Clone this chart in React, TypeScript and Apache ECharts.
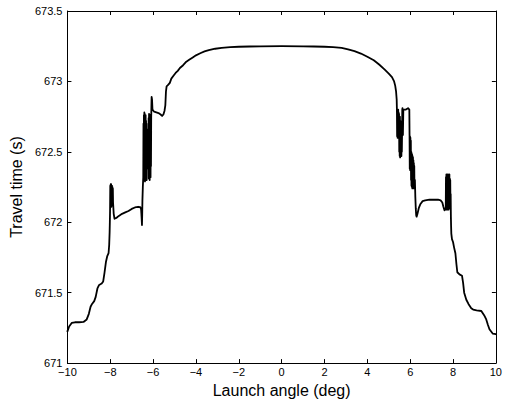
import React, { useEffect, useRef } from "react";
import * as echarts from "echarts";

// Ray samples as [launch angle (deg), travel time (s)], left to right along the curve.

// Smooth rise from the left edge
const leftTail: [number, number][] = [
  [-10.0, 671.225], [-9.92, 671.26], [-9.8, 671.285], [-9.65, 671.29], [-9.45, 671.29], [-9.25, 671.292],
  [-9.1, 671.31], [-9.0, 671.35], [-8.92, 671.4], [-8.85, 671.42], [-8.75, 671.44], [-8.68, 671.47],
  [-8.6, 671.53], [-8.52, 671.555], [-8.4, 671.565], [-8.33, 671.58], [-8.27, 671.64], [-8.2, 671.72],
  [-8.14, 671.76], [-8.08, 671.78], [-8.05, 671.84], [-8.03, 671.93], [-8.02, 672.0], [-8.01, 672.08],
];

// Scattered arrivals near -8 deg
const leftBand1: [number, number][] = [
  [-8.0, 672.26], [-7.99, 672.11], [-7.98, 672.27], [-7.97, 672.12], [-7.96, 672.27], [-7.95, 672.11],
  [-7.94, 672.26], [-7.93, 672.12], [-7.92, 672.26], [-7.91, 672.13], [-7.9, 672.25], [-7.89, 672.12],
  [-7.88, 672.24], [-7.87, 672.14],
];

// Shallow shelf between -7.8 and -6.5 deg
const leftShelf: [number, number][] = [
  [-7.84, 672.06], [-7.8, 672.025], [-7.72, 672.03], [-7.6, 672.045], [-7.45, 672.06], [-7.3, 672.07],
  [-7.15, 672.08], [-7.0, 672.095], [-6.85, 672.105], [-6.7, 672.11], [-6.6, 672.108], [-6.56, 672.09],
  [-6.54, 672.04], [-6.52, 671.98], [-6.51, 672.05], [-6.5, 672.15], [-6.48, 672.25], [-6.46, 672.32],
];

// Scattered arrivals between -6.45 and -6.07 deg
const leftBand2: [number, number][] = [
  [-6.45, 672.7], [-6.44, 672.32], [-6.43, 672.76], [-6.42, 672.3], [-6.41, 672.78], [-6.4, 672.34],
  [-6.39, 672.77], [-6.38, 672.29], [-6.37, 672.75], [-6.36, 672.33], [-6.35, 672.76], [-6.34, 672.3],
  [-6.33, 672.72], [-6.32, 672.35], [-6.31, 672.7], [-6.3, 672.3], [-6.29, 672.66], [-6.28, 672.38],
  [-6.27, 672.6], [-6.26, 672.4], [-6.24, 672.5], [-6.22, 672.45],
  [-6.21, 672.74], [-6.2, 672.31], [-6.19, 672.77], [-6.18, 672.33], [-6.17, 672.76], [-6.16, 672.3],
  [-6.15, 672.75], [-6.14, 672.35], [-6.13, 672.76], [-6.12, 672.32], [-6.11, 672.72], [-6.1, 672.4],
  [-6.09, 672.74],
];

// Step, then the broad plateau across the centre
const plateau: [number, number][] = [
  [-6.08, 672.82], [-6.07, 672.89], [-6.05, 672.87], [-6.03, 672.8], [-5.95, 672.785], [-5.85, 672.78],
  [-5.75, 672.775], [-5.65, 672.765], [-5.58, 672.755], [-5.52, 672.765], [-5.47, 672.79], [-5.43, 672.83],
  [-5.4, 672.93], [-5.37, 672.965], [-5.3, 672.975], [-5.22, 672.99], [-5.15, 673.02], [-5.05, 673.04],
  [-4.95, 673.06], [-4.85, 673.075], [-4.75, 673.095], [-4.6, 673.115], [-4.45, 673.14], [-4.3, 673.155],
  [-4.15, 673.17], [-4.0, 673.185], [-3.8, 673.2], [-3.6, 673.213], [-3.4, 673.222], [-3.1, 673.232],
  [-2.8, 673.238], [-2.4, 673.243], [-2.0, 673.246], [-1.5, 673.248], [-1.0, 673.249], [0.0, 673.25],
  [1.0, 673.249], [1.5, 673.248], [2.0, 673.246], [2.4, 673.243], [2.8, 673.238], [3.1, 673.228],
  [3.4, 673.215], [3.7, 673.198], [4.0, 673.175], [4.3, 673.15], [4.55, 673.12], [4.8, 673.085],
  [5.0, 673.055], [5.15, 673.03], [5.25, 673.0], [5.3, 672.97], [5.34, 672.93], [5.37, 672.87],
];

// Scattered arrivals between 5.38 and 5.62 deg
const rightBand1: [number, number][] = [
  [5.38, 672.8], [5.39, 672.61], [5.4, 672.8], [5.41, 672.6], [5.42, 672.79], [5.43, 672.62],
  [5.44, 672.8], [5.45, 672.6], [5.46, 672.78], [5.47, 672.61], [5.48, 672.77], [5.49, 672.5],
  [5.5, 672.74], [5.51, 672.47], [5.52, 672.75], [5.53, 672.46], [5.54, 672.72], [5.55, 672.47],
  [5.56, 672.7], [5.57, 672.48], [5.58, 672.68], [5.59, 672.47], [5.6, 672.65], [5.61, 672.5],
  [5.62, 672.62], [5.63, 672.8], [5.64, 672.81], [5.66, 672.62], [5.68, 672.8], [5.8, 672.8],
  [5.9, 672.81], [5.96, 672.8],
];

// Scattered arrivals between 5.97 and 6.22 deg
const rightBand2: [number, number][] = [
  [5.97, 672.62], [5.98, 672.38], [5.99, 672.61], [6.0, 672.37], [6.01, 672.6], [6.02, 672.38],
  [6.03, 672.58], [6.04, 672.3], [6.05, 672.5], [6.06, 672.26], [6.07, 672.49], [6.08, 672.25],
  [6.09, 672.48], [6.1, 672.24], [6.11, 672.47], [6.12, 672.26], [6.13, 672.46], [6.14, 672.24],
  [6.15, 672.44], [6.16, 672.25], [6.17, 672.42], [6.18, 672.24], [6.19, 672.4], [6.2, 672.25],
  [6.22, 672.3],
];

// Shelf between 6.3 and 7.6 deg
const rightShelf: [number, number][] = [
  [6.24, 672.18], [6.26, 672.1], [6.28, 672.05], [6.3, 672.04], [6.34, 672.06], [6.4, 672.1],
  [6.48, 672.13], [6.58, 672.15], [6.7, 672.155], [6.9, 672.16], [7.1, 672.16], [7.3, 672.16],
  [7.42, 672.155], [7.5, 672.14], [7.55, 672.11], [7.6, 672.085],
];

// Scattered arrivals near 7.8 deg
const rightBand3: [number, number][] = [
  [7.66, 672.1], [7.67, 672.32], [7.68, 672.09], [7.69, 672.34], [7.7, 672.1], [7.71, 672.33],
  [7.72, 672.09], [7.73, 672.34], [7.74, 672.11], [7.75, 672.33], [7.76, 672.09], [7.77, 672.34],
  [7.78, 672.1], [7.79, 672.32], [7.8, 672.09], [7.81, 672.33], [7.82, 672.12], [7.83, 672.34],
  [7.84, 672.1], [7.85, 672.31], [7.86, 672.14], [7.87, 672.3], [7.88, 672.12], [7.89, 672.2],
];

// Smooth fall to the right edge
const rightTail: [number, number][] = [
  [7.9, 672.04], [7.91, 671.97], [7.92, 671.92], [7.95, 671.88], [8.0, 671.86], [8.05, 671.82],
  [8.11, 671.78], [8.16, 671.7], [8.2, 671.645], [8.3, 671.63], [8.42, 671.62], [8.47, 671.57],
  [8.52, 671.5], [8.62, 671.45], [8.72, 671.42], [8.85, 671.39], [8.94, 671.38], [9.1, 671.375],
  [9.32, 671.37], [9.45, 671.34], [9.55, 671.31], [9.63, 671.27], [9.7, 671.24], [9.85, 671.21],
  [10.0, 671.205],
];

// Axis ranges and tick spacing
const xRange: [number, number] = [-10, 10];
const xStep = 2;
const yRange: [number, number] = [671, 673.5];
const yStep = 0.5;

const xTitle = "Launch angle (deg)";
const yTitle = "Travel time (s)";

const FONT = "'Liberation Sans', Arial, Helvetica, sans-serif";

export default function App() {
  const ref = useRef<HTMLDivElement>(null);

  useEffect(() => {
    if (!ref.current) return;
    const chart = echarts.init(ref.current, undefined, { renderer: "svg" });

    const points = [
      ...leftTail, ...leftBand1, ...leftShelf, ...leftBand2, ...plateau,
      ...rightBand1, ...rightBand2, ...rightShelf, ...rightBand3, ...rightTail,
    ];
    const axisLine = { show: true, onZero: false, lineStyle: { color: "#000", width: 1 } };
    const axisTick = { show: true, inside: true, length: 4, lineStyle: { color: "#000", width: 1 } };
    const labelStyle = { color: "#000", fontSize: 11, fontFamily: FONT };
    const fmtX = (v: number) => (v < 0 ? "\u2212" + Math.abs(v) : String(v));

    chart.setOption({
      animation: false,
      backgroundColor: "#fff",
      grid: { left: 58, right: 5, top: 11, bottom: 39, containLabel: false },
      xAxis: [
        {
          type: "value",
          position: "bottom",
          min: xRange[0],
          max: xRange[1],
          interval: xStep,
          axisLine,
          axisTick,
          splitLine: { show: false },
          axisLabel: { ...labelStyle, margin: 3, formatter: fmtX, showMinLabel: true, showMaxLabel: true },
          name: xTitle,
          nameLocation: "middle",
          nameGap: 15,
          nameTextStyle: { color: "#000", fontSize: 16, fontFamily: FONT },
        },
        {
          type: "value",
          position: "top",
          min: xRange[0],
          max: xRange[1],
          interval: xStep,
          axisLine,
          axisTick,
          splitLine: { show: false },
          axisLabel: { show: false },
        },
      ],
      yAxis: [
        {
          type: "value",
          position: "left",
          min: yRange[0],
          max: yRange[1],
          interval: yStep,
          axisLine,
          axisTick,
          splitLine: { show: false },
          axisLabel: { ...labelStyle, margin: 5, showMinLabel: true, showMaxLabel: true },
          name: yTitle,
          nameLocation: "middle",
          nameGap: 32,
          nameTextStyle: { color: "#000", fontSize: 16, fontFamily: FONT },
        },
        {
          type: "value",
          position: "right",
          min: yRange[0],
          max: yRange[1],
          interval: yStep,
          axisLine,
          axisTick,
          splitLine: { show: false },
          axisLabel: { show: false },
        },
      ],
      series: [
        {
          type: "line",
          xAxisIndex: 0,
          yAxisIndex: 0,
          data: points,
          showSymbol: false,
          symbol: "none",
          smooth: false,
          lineStyle: { color: "#000", width: 1.8, join: "round", cap: "round" },
          silent: true,
        },
      ],
    });

    return () => chart.dispose();
  }, []);

  return (
    <div
      ref={ref}
      style={{ position: "absolute", left: 0, top: 0, width: 505, height: 403 }}
    />
  );
}
